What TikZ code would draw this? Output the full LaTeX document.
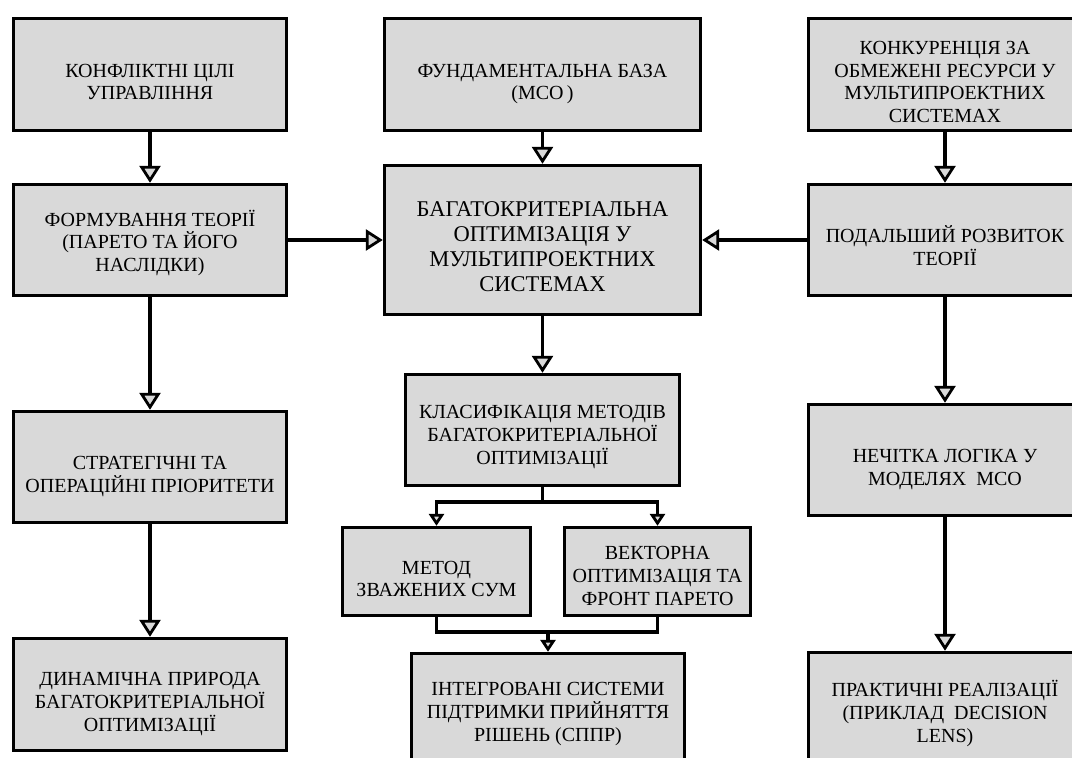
\documentclass[tikz,border=0pt]{standalone}
\usepackage{fontspec}
\setmainfont{Liberation Serif}
\usetikzlibrary{arrows.meta}
\definecolor{boxgray}{RGB}{217,217,217}
% invisible strut on a first line: a taller first line lowers the centred text block
\newcommand\padtop[1][28pt]{\rule{0pt}{#1}}
\tikzset{
  box/.style={draw=black, line width=3.4pt, fill=boxgray, align=center,
    inner sep=0pt, font=\fontsize{20}{22.7}\selectfont},
  bigtext/.style={font=\fontsize{22.5}{24.8}\selectfont},
  conn/.style={draw=black, line width=3.2pt},
  arr/.style={conn, -{Triangle[width=21pt,length=17pt,fill=boxgray,line width=2.8pt]}},
  arrsmall/.style={conn, -{Triangle[width=15pt,length=12pt,fill=boxgray,line width=2.8pt]}},
}
\begin{document}
\begin{tikzpicture}[x=1pt,y=-1pt]
\useasboundingbox (0,0) rectangle (1072,758);
\clip (0,0) rectangle (1072,758);

% left column
\node[box, minimum width=273, minimum height=112] (l1) at (150,74.5)
  {\padtop КОНФЛІКТНІ ЦІЛІ\\УПРАВЛІННЯ};
\node[box, minimum width=273, minimum height=111] (l2) at (150,240)
  {\padtop[22pt]ФОРМУВАННЯ ТЕОРІЇ\\(ПАРЕТО ТА ЙОГО\\НАСЛІДКИ)};
\node[box, minimum width=273, minimum height=111] (l3) at (150,467)
  {\padtop[32pt]СТРАТЕГІЧНІ ТА\\ОПЕРАЦІЙНІ ПРІОРИТЕТИ};
\node[box, minimum width=273, minimum height=112] (l4) at (150,694.5)
  {\padtop[32pt]ДИНАМІЧНА ПРИРОДА\\БАГАТОКРИТЕРІАЛЬНОЇ\\ОПТИМІЗАЦІЇ};

% centre column
\node[box, minimum width=316, minimum height=112] (c1) at (542.5,74.5)
  {\padtop[32pt]ФУНДАМЕНТАЛЬНА БАЗА\\(МСО\,)};
\node[box, bigtext, minimum width=316, minimum height=149] (main) at (542.5,240)
  {\padtop[28pt]БАГАТОКРИТЕРІАЛЬНА\\ОПТИМІЗАЦІЯ У\\МУЛЬТИПРОЕКТНИХ\\СИСТЕМАХ};
\node[box, minimum width=274, minimum height=111] (cls) at (542.5,430)
  {\padtop[27pt]КЛАСИФІКАЦІЯ МЕТОДІВ\\БАГАТОКРИТЕРІАЛЬНОЇ\\ОПТИМІЗАЦІЇ};
\node[box, minimum width=188, minimum height=88] (wsum) at (436.5,571.5)
  {\padtop МЕТОД\\ЗВАЖЕНИХ СУМ};
\node[box, minimum width=186, minimum height=88] (vec) at (657.5,571.5)
  {\padtop[22pt]ВЕКТОРНА\\ОПТИМІЗАЦІЯ ТА\\ФРОНТ ПАРЕТО};
\node[box, minimum width=273, minimum height=112] (dss) at (548,709.5)
  {\padtop[22pt]ІНТЕГРОВАНІ СИСТЕМИ\\ПІДТРИМКИ ПРИЙНЯТТЯ\\РІШЕНЬ (СППР)};

% right column
\node[box, minimum width=273, minimum height=112] (r1) at (945,74.5)
  {\padtop КОНКУРЕНЦІЯ ЗА\\ОБМЕЖЕНІ РЕСУРСИ У\\МУЛЬТИПРОЕКТНИХ\\СИСТЕМАХ};
\node[box, minimum width=273, minimum height=111] (r2) at (945,240)
  {\padtop ПОДАЛЬШИЙ РОЗВИТОК\\ТЕОРІЇ};
\node[box, minimum width=273, minimum height=111] (r3) at (945,460)
  {\padtop[32pt]НЕЧІТКА ЛОГІКА У\\МОДЕЛЯХ\ \ МСО};
\node[box, minimum width=273, minimum height=112] (r4) at (945,708.5)
  {\padtop[26pt]ПРАКТИЧНІ РЕАЛІЗАЦІЇ\\(ПРИКЛАД\ \ DECISION\\LENS)};

% connectors
\draw[arr] (l1) -- (l2);
\draw[arr] (l2) -- (l3);
\draw[arr] (l3) -- (l4);
\draw[arr] (r1) -- (r2);
\draw[arr] (r2) -- (r3);
\draw[arr] (r3) -- (r4);
\draw[arr] (c1) -- (main);
\draw[arr] (l2) -- (main);
\draw[arr] (r2) -- (main);
\draw[arr] (main) -- (cls);

% split below the classification box
\coordinate (split) at (542.5,502);
\draw[conn] (cls.south) -- (split);
\draw[arrsmall] (split) -| (wsum.north);
\draw[arrsmall] (split) -| (vec.north);

% join above the decision-support box
\coordinate (join) at (548,632);
\draw[conn] (wsum.south) |- (join) -| (vec.south);
\draw[arrsmall] (join) -- (dss.north);
\end{tikzpicture}
\end{document}
